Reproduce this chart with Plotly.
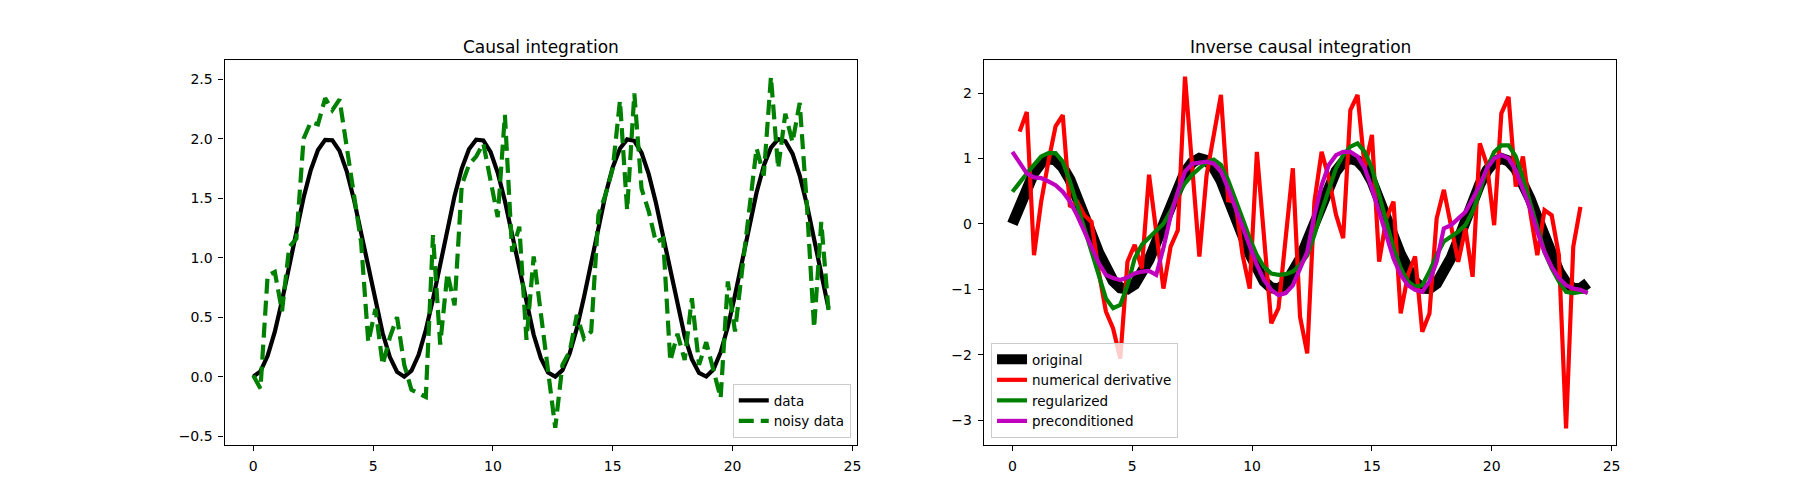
import plotly.graph_objects as go

t = [0.0, 0.3, 0.6, 0.9, 1.2, 1.5, 1.8, 2.1, 2.4, 2.7, 3.0, 3.3, 3.6, 3.9, 4.2, 4.5, 4.8, 5.1, 5.4, 5.7,
     6.0, 6.3, 6.6, 6.9, 7.2, 7.5, 7.8, 8.1, 8.4, 8.7, 9.0, 9.3, 9.6, 9.9, 10.2, 10.5, 10.8, 11.1, 11.4, 11.7,
     12.0, 12.3, 12.6, 12.9, 13.2, 13.5, 13.8, 14.1, 14.4, 14.7, 15.0, 15.3, 15.6, 15.9, 16.2, 16.5, 16.8, 17.1, 17.4, 17.7,
     18.0, 18.3, 18.6, 18.9, 19.2, 19.5, 19.8, 20.1, 20.4, 20.7, 21.0, 21.3, 21.6, 21.9, 22.2, 22.5, 22.8, 23.1, 23.4, 23.7, 24.0]

data = [0.0, 0.045, 0.175, 0.378, 0.638, 0.929, 1.227, 1.505, 1.737, 1.904, 1.99, 1.987, 1.897, 1.726, 1.49, 1.211,
        0.913, 0.622, 0.365, 0.165, 0.04, 0.0, 0.05, 0.184, 0.392, 0.653, 0.946, 1.243, 1.519, 1.749, 1.911, 1.992,
        1.985, 1.889, 1.714, 1.476, 1.195, 0.897, 0.603, 0.352, 0.156, 0.035, 0.001, 0.055, 0.194, 0.406, 0.669, 0.962,
        1.26, 1.533, 1.76, 1.918, 1.994, 1.982, 1.882, 1.702, 1.461, 1.178, 0.88, 0.587, 0.34, 0.147, 0.031, 0.001,
        0.06, 0.204, 0.419, 0.685, 0.979, 1.276, 1.548, 1.772, 1.924, 1.996, 1.978, 1.874, 1.69, 1.446, 1.161, 0.863, 0.576]

noisy = [0.01, -0.10, 0.85, 0.88, 0.55, 1.09, 1.16, 2.00, 2.14, 2.12, 2.34, 2.24, 2.33, 1.92, 1.50, 1.13, 0.29, 0.57,
         0.10, 0.33, 0.50, 0.10, -0.11, -0.14, -0.17, 1.19, 0.27, 0.87, 0.60, 1.61, 1.78, 1.85, 1.96, 1.65, 1.34, 2.20,
         1.05, 1.26, 0.31, 1.01, 0.55, 0.05, -0.43, 0.10, 0.21, 0.52, 0.32, 0.38, 1.36, 1.53, 1.75, 2.32, 1.40, 2.38,
         1.58, 1.39, 1.13, 1.16, 0.13, 0.36, 0.14, 0.66, 0.10, 0.29, 0.05, -0.18, 0.80, 0.38, 0.90, 1.40, 1.92, 1.69,
         2.52, 1.75, 2.21, 1.97, 2.30, 1.44, 0.41, 1.30, 0.56]

original = [0.0, 0.296, 0.565, 0.783, 0.932, 0.997, 0.974, 0.863, 0.675, 0.427, 0.141, -0.158, -0.443, -0.688, -0.872,
            -0.978, -0.996, -0.926, -0.773, -0.551, -0.279, 0.017, 0.312, 0.578, 0.794, 0.938, 0.999, 0.97, 0.855, 0.663,
            0.412, 0.125, -0.174, -0.457, -0.7, -0.88, -0.981, -0.994, -0.918, -0.762, -0.537, -0.263, 0.034, 0.327,
            0.592, 0.804, 0.944, 1.0, 0.965, 0.846, 0.65, 0.397, 0.108, -0.19, -0.471, -0.712, -0.888, -0.984, -0.992,
            -0.911, -0.751, -0.522, -0.247, 0.05, 0.342, 0.605, 0.814, 0.949, 1.0, 0.96, 0.837, 0.636, 0.382, 0.092,
            -0.206, -0.485, -0.724, -0.895, -0.987, -0.989, -0.906]

numerical = [1.41, 1.71, -0.48, 0.34, 0.95, 1.49, 1.66, 0.26, 0.34, 0.13, 0.03, -0.73, -1.34, -1.60, -2.06, -0.58,
             -0.32, -0.68, 0.75, -0.15, -0.99, -0.35, -0.10, 2.25, 0.87, -0.50, 0.74, 1.35, 1.97, 0.36, 0.34, -0.47,
             -0.99, 1.10, -0.15, -1.52, -1.29, -0.20, 0.85, -1.42, -1.98, 0.34, 1.10, 0.70, 0.14, -0.22, 1.74, 1.97,
             0.85, 1.36, -0.58, 0.08, 0.34, -1.37, -0.78, -0.50, -1.65, -1.37, 0.08, 0.52, -0.02, -0.58, -0.07, -0.81,
             1.23, 0.90, -0.02, 1.69, 1.94, 0.57, 1.03, 0.19, -0.48, 0.21, 0.13, -0.48, -3.13, -0.35, 0.26]

regularized = [0.49, 0.64, 0.77, 0.90, 1.03, 1.08, 1.08, 0.95, 0.65, 0.29, -0.07, -0.43, -0.83, -1.14, -1.29, -1.24,
               -0.94, -0.53, -0.32, -0.22, -0.12, 0.0, 0.19, 0.44, 0.62, 0.75, 0.85, 0.94, 0.98, 0.90, 0.67, 0.39,
               0.08, -0.22, -0.48, -0.66, -0.76, -0.78, -0.77, -0.73, -0.63, -0.48, -0.17, 0.19, 0.54, 0.85, 1.05,
               1.18, 1.23, 1.10, 0.85, 0.44, -0.02, -0.37, -0.68, -0.88, -0.96, -0.94, -0.73, -0.48, -0.27, -0.19,
               -0.12, -0.02, 0.19, 0.49, 0.85, 1.10, 1.20, 1.20, 1.03, 0.70, 0.34, -0.07, -0.43, -0.68, -0.88, -1.04,
               -1.06, -1.04, -1.04]

preconditioned = [1.10, 0.93, 0.77, 0.71, 0.70, 0.65, 0.59, 0.49, 0.34, 0.13, -0.12, -0.37, -0.60, -0.78, -0.83,
                  -0.86, -0.82, -0.76, -0.73, -0.72, -0.78, -0.37, 0.12, 0.49, 0.80, 0.92, 0.94, 0.95, 0.92, 0.80,
                  0.54, 0.24, -0.07, -0.37, -0.63, -0.86, -1.01, -1.09, -1.06, -0.94, -0.68, -0.43, 0.13, 0.59, 0.90,
                  1.05, 1.10, 1.10, 1.03, 0.85, 0.54, 0.19, -0.17, -0.53, -0.78, -0.94, -1.01, -1.04, -0.88, -0.58,
                  -0.07, -0.02, 0.08, 0.18, 0.38, 0.59, 0.85, 1.00, 1.05, 1.00, 0.82, 0.54, 0.24, -0.12, -0.43, -0.66,
                  -0.83, -0.94, -0.99, -1.01, -1.06]

x_ticks = [0, 5, 10, 15, 20, 25]
left_y_ticks = [-0.5, 0.0, 0.5, 1.0, 1.5, 2.0, 2.5]
right_y_ticks = [-3, -2, -1, 0, 1, 2]

FONT = "DejaVu Sans"
fig = go.Figure()

# Left panel
fig.add_trace(go.Scatter(x=t, y=data, mode="lines", name="data",
                         line=dict(color="black", width=4.2), xaxis="x", yaxis="y", legend="legend"))
fig.add_trace(go.Scatter(x=t, y=noisy, mode="lines", name="noisy data",
                         line=dict(color="#008000", width=4.2, dash="15px,7px"), xaxis="x", yaxis="y", legend="legend"))

# Right panel
fig.add_trace(go.Scatter(x=t, y=original, mode="lines", name="original",
                         line=dict(color="black", width=11), xaxis="x2", yaxis="y2", legend="legend2"))
fig.add_trace(go.Scatter(x=t[1:-1], y=numerical, mode="lines", name="numerical derivative",
                         line=dict(color="#ff0000", width=4.2), xaxis="x2", yaxis="y2", legend="legend2"))
fig.add_trace(go.Scatter(x=t, y=regularized, mode="lines", name="regularized",
                         line=dict(color="#008000", width=4.2), xaxis="x2", yaxis="y2", legend="legend2"))
fig.add_trace(go.Scatter(x=t, y=preconditioned, mode="lines", name="preconditioned",
                         line=dict(color="#bf00bf", width=4.2), xaxis="x2", yaxis="y2", legend="legend2"))

axis_common = dict(showline=True, mirror=True, linecolor="black", linewidth=1.1, showgrid=False, zeroline=False,
                   ticks="outside", ticklen=5, tickwidth=1.1, tickcolor="black", ticklabelstandoff=3,
                   tickfont=dict(family=FONT, size=14, color="black"))

fig.update_layout(
    width=1800, height=500, margin=dict(l=0, r=0, t=0, b=0),
    paper_bgcolor="white", plot_bgcolor="white",
    font=dict(family=FONT, size=14, color="black"),
    xaxis=dict(domain=[0.125, 0.4773], range=[-1.2, 25.2], tickvals=x_ticks, anchor="y", **axis_common),
    yaxis=dict(domain=[0.11, 0.88], range=[-0.574, 2.661], tickvals=left_y_ticks,
               ticktext=[f"{v:.1f}".replace("-", "\u2212") for v in left_y_ticks], anchor="x", **axis_common),
    xaxis2=dict(domain=[0.5477, 0.9], range=[-1.2, 25.2], tickvals=x_ticks, anchor="y2", **axis_common),
    yaxis2=dict(domain=[0.11, 0.88], range=[-3.382, 2.505], tickvals=right_y_ticks,
                ticktext=[str(v).replace("-", "\u2212") for v in right_y_ticks], anchor="x2", **axis_common),
    legend=dict(x=0.4737, y=0.124, xanchor="right", yanchor="bottom",
                bgcolor="rgba(255,255,255,0.8)", bordercolor="#cccccc", borderwidth=1,
                font=dict(family=FONT, size=13.5, color="black"), tracegroupgap=0),
    legend2=dict(x=0.5518, y=0.124, xanchor="left", yanchor="bottom",
                 bgcolor="rgba(255,255,255,0.8)", bordercolor="#cccccc", borderwidth=1,
                 font=dict(family=FONT, size=13.5, color="black"), tracegroupgap=0),
    annotations=[
        dict(text="Causal integration", x=(0.125 + 0.4773) / 2, y=0.88, xref="paper", yref="paper",
             xanchor="center", yanchor="bottom", yshift=1, showarrow=False,
             font=dict(family=FONT, size=17, color="black")),
        dict(text="Inverse causal integration", x=(0.5477 + 0.9) / 2, y=0.88, xref="paper", yref="paper",
             xanchor="center", yanchor="bottom", yshift=1, showarrow=False,
             font=dict(family=FONT, size=17, color="black")),
    ],
)

fig.write_html("out.html")
